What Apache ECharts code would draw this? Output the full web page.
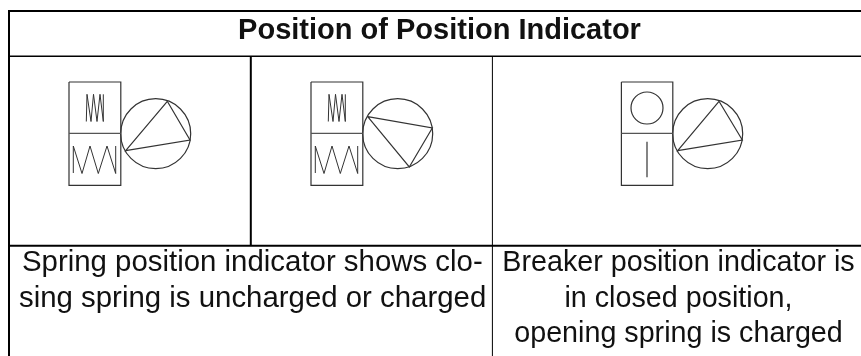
<!DOCTYPE html>
<html><head><meta charset="utf-8">
<style>html,body{margin:0;padding:0;background:#fff}#c{width:861px;height:356px}</style>
<script src="https://cdn.jsdelivr.net/npm/echarts@6/dist/echarts.min.js"></script>
</head><body><div id="c"></div>
<script>
// Diagram geometry, in picture units (x right, y down)
const tableHeavy = [
  [[9, 356], [9, 11], [861, 11]],
  [[9, 245.7], [861, 245.7]],
  [[250.8, 56.3], [250.8, 245.7]]
];
const tableMedium = [
  [[9, 56.3], [861, 56.3]]
];
const tableThin = [
  [[492.4, 56.3], [492.4, 356]]
];
const boxes = [
  [[69, 82], [120.8, 82], [120.8, 185.3], [69, 185.3], [69, 82]],
  [[311, 82], [362.8, 82], [362.8, 185.3], [311, 185.3], [311, 82]],
  [[621.4, 82], [672.8, 82], [672.8, 185.3], [621.4, 185.3], [621.4, 82]]
];
const boxDividers = [
  [[69, 133.3], [120.8, 133.3]],
  [[311, 133.3], [362.8, 133.3]],
  [[621.4, 133.3], [672.8, 133.3]]
];
const triangles = [
  [[167.3, 101.3], [190, 140], [125.7, 150.7], [167.3, 101.3]],
  [[367.7, 116.7], [432.3, 128], [409.3, 167], [367.7, 116.7]],
  [[719, 101.3], [742.3, 140], [677.7, 150.7], [719, 101.3]]
];
const tightSprings = [
  [[86.3, 121.5], [87, 94.3], [91, 121.5], [93.5, 94.3], [97, 121.5], [100, 94.3], [103.3, 121.5], [103.3, 94.3]],
  [[328.3, 121.5], [329, 94.3], [333, 121.5], [335.5, 94.3], [339, 121.5], [342, 94.3], [345.3, 121.5], [345.3, 94.3]]
];
const looseSprings = [
  [[73.3, 173], [73.3, 146], [82, 173.5], [90, 146], [98.3, 173.5], [107, 146], [115.7, 173.5], [115.7, 146]],
  [[315.3, 173], [315.3, 146], [324, 173.5], [332, 146], [340.3, 173.5], [349, 146], [357.7, 173.5], [357.7, 146]]
];
const plungers = [
  [[647, 141.7], [647, 177.3]]
];
// centre x, centre y, radius
const circles = [
  [155.7, 133.7, 35],
  [397.7, 133.7, 35],
  [707.7, 133.7, 35],
  [647, 108, 16]
];
// text, anchor x, middle y, align, font
const labels = [
  ['Position of Position Indicator', 439.5, 31, 'center', 'bold 29px'],
  ['Spring position indicator shows clo-', 22, 263, 'left', '29.4px'],
  ['sing spring is uncharged or charged', 19, 299, 'left', '29.4px'],
  ['Breaker position indicator is', 678.5, 263, 'center', '28.7px'],
  ['in closed position,', 678.5, 299, 'center', '28.7px'],
  ['opening spring is charged', 678.5, 334, 'center', '28.7px']
];

const paths = (list, width, color) => list.map(data => ({
  type: 'line', data, showSymbol: false, symbol: 'none', silent: true,
  lineStyle: { width, color, cap: 'butt', join: 'miter' }, animation: false
}));

const chart = echarts.init(document.getElementById('c'));
chart.setOption({
  animation: false,
  backgroundColor: '#ffffff',
  grid: { left: 0, right: 0, top: 0, bottom: 0 },
  xAxis: { type: 'value', min: 0, max: 861, show: false },
  yAxis: { type: 'value', min: 0, max: 356, inverse: true, show: false },
  series: [
    ...paths(tableHeavy, 2, '#000000'),
    ...paths(tableMedium, 1.5, '#000000'),
    ...paths(tableThin, 1, '#000000'),
    ...paths(boxes, 1.2, '#333333'),
    ...paths(boxDividers, 1.2, '#555555'),
    ...paths(triangles, 1.2, '#333333'),
    ...paths(tightSprings, 1, '#333333'),
    ...paths(looseSprings, 1, '#333333'),
    ...paths(plungers, 1.2, '#333333'),
    {
      type: 'custom', data: circles, silent: true, animation: false,
      encode: { x: 0, y: 1 },
      renderItem: (p, api) => {
        const c = api.coord([api.value(0), api.value(1)]);
        const r = api.size([api.value(2), 0])[0];
        return { type: 'circle', shape: { cx: c[0], cy: c[1], r },
          style: { fill: 'none', stroke: '#333333', lineWidth: 1.2 } };
      }
    },
    {
      type: 'custom', data: labels.map(l => [l[1], l[2]]), silent: true, animation: false,
      encode: { x: 0, y: 1 },
      renderItem: (p, api) => {
        const c = api.coord([api.value(0), api.value(1)]);
        const row = labels[p.dataIndex];
        return { type: 'text', x: c[0], y: c[1], style: {
          text: row[0], fill: '#111111', align: row[3], verticalAlign: 'middle',
          font: row[4] + ' "Liberation Sans", Arial, sans-serif'
        } };
      }
    }
  ]
});
</script></body></html>
